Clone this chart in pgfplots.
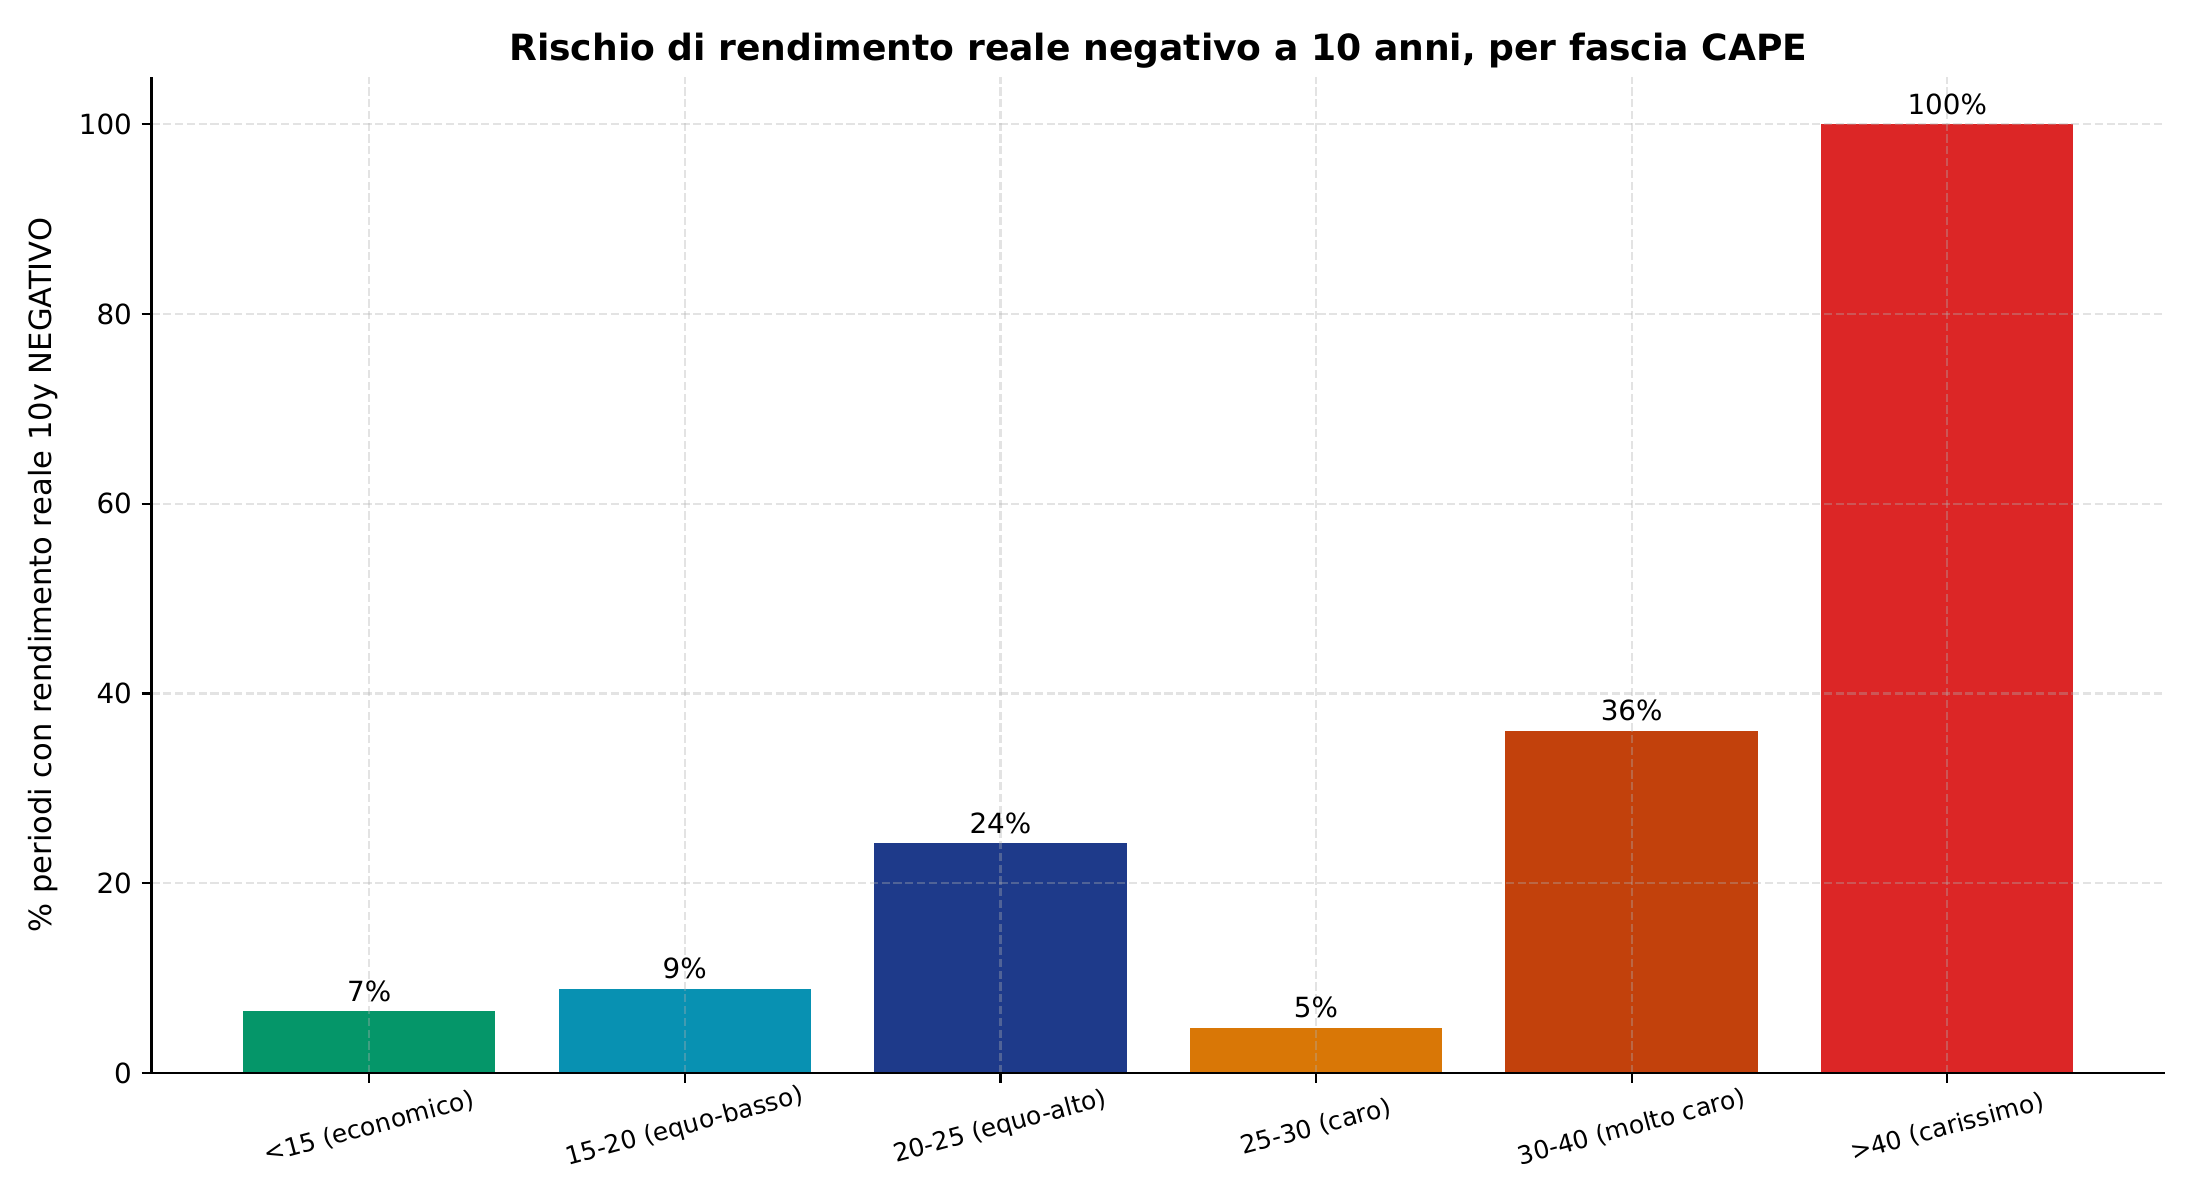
\documentclass[border=0pt]{standalone}
\usepackage{fontspec}
\setmainfont{DejaVu Sans}
\usepackage{pgfplots}
\pgfplotsset{compat=1.18}
\definecolor{cA}{HTML}{059669}
\definecolor{cB}{HTML}{0891B2}
\definecolor{cC}{HTML}{1E3A8A}
\definecolor{cD}{HTML}{D97706}
\definecolor{cE}{HTML}{C2410C}
\definecolor{cF}{HTML}{DC2626}
\definecolor{gridc}{HTML}{B0B0B0}
\begin{document}
\begin{tikzpicture}
\useasboundingbox (0,0) rectangle (792pt,432pt);
\begin{axis}[
  at={(54.5pt,45.7pt)}, anchor=south west,
  scale only axis, width=724.9pt, height=358.6pt,
  xmin=-0.69, xmax=5.69, ymin=0, ymax=105,
  axis x line*=bottom, axis y line*=left,
  x axis line style={-}, y axis line style={-},
  axis line style={line width=0.8pt, black},
  tick align=outside, major tick length=3.5pt,
  tick style={line width=0.8pt, black},
  xtick={0,1,2,3,4,5},
  xticklabels={{<15 (economico)},{15-20 (equo-basso)},{20-25 (equo-alto)},{25-30 (caro)},{30-40 (molto caro)},{>40 (carissimo)}},
  ytick={0,20,40,60,80,100},
  /pgf/number format/assume math mode=true,
  grid=major,
  major grid style={line width=0.8pt, draw=gridc, opacity=0.35, dash pattern=on 2.96pt off 1.28pt},
  axis on top,
  yticklabel style={font=\fontsize{10}{12}\selectfont},
  xticklabel style={font=\fontsize{9}{11}\selectfont, anchor=center, yshift=-16pt, rotate=15},
  ylabel={\% periodi con rendimento reale 10y NEGATIVO},
  ylabel style={font=\fontsize{11}{13}\selectfont, at={(axis description cs:-0.0538,0.5)}, anchor=center},
  title={\bfseries Rischio di rendimento reale negativo a 10 anni, per fascia CAPE},
  title style={font=\fontsize{13}{16}\selectfont, at={(axis description cs:0.5,1)}, anchor=base, yshift=0pt},
  point meta=explicit symbolic,
  nodes near coords style={font=\fontsize{10}{12}\selectfont, anchor=base, yshift=3.6pt, inner sep=0pt},
]
\addplot[ybar, bar width=0.8, bar shift=0pt, fill=cA, draw=none, nodes near coords] coordinates {(0,6.5) [7\%]};
\addplot[ybar, bar width=0.8, bar shift=0pt, fill=cB, draw=none, nodes near coords] coordinates {(1,8.9) [9\%]};
\addplot[ybar, bar width=0.8, bar shift=0pt, fill=cC, draw=none, nodes near coords] coordinates {(2,24.2) [24\%]};
\addplot[ybar, bar width=0.8, bar shift=0pt, fill=cD, draw=none, nodes near coords] coordinates {(3,4.8) [5\%]};
\addplot[ybar, bar width=0.8, bar shift=0pt, fill=cE, draw=none, nodes near coords] coordinates {(4,36.1) [36\%]};
\addplot[ybar, bar width=0.8, bar shift=0pt, fill=cF, draw=none, nodes near coords] coordinates {(5,100) [100\%]};
\end{axis}
\end{tikzpicture}
\end{document}
